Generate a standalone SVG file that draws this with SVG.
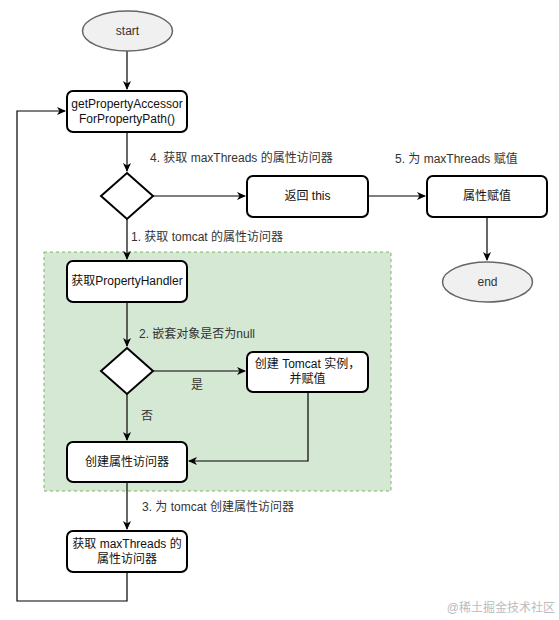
<svg xmlns="http://www.w3.org/2000/svg" width="559" height="620" viewBox="0 0 559 620">
<style>
text{font-family:"Liberation Sans",Arial,"Noto Sans CJK SC",sans-serif;font-size:12px;fill:#111}
.box{fill:#fff;stroke:#000;stroke-width:2}
.term{fill:#f0f0f0;stroke:#666;stroke-width:1.5}
.c{fill:none;stroke:#000;stroke-width:1.2}
.m{text-anchor:middle}
.lbl{fill:#333}
</style>
<defs>
<marker id="a" markerWidth="10" markerHeight="10" refX="8" refY="5" orient="auto" markerUnits="userSpaceOnUse">
<path d="M0,1 L9,5 L0,9 L2.5,5 Z" fill="#000"/>
</marker>
</defs>
<rect x="0" y="0" width="559" height="620" fill="#fff"/>
<g id="group-tomcat">
<rect x="44" y="252" width="347" height="239" fill="#d5e8d4" stroke="#82b366" stroke-width="1" stroke-dasharray="3,3"/>
</g>
<g id="connectors">
<path class="c" d="M127,51 V89" marker-end="url(#a)"/>
<path class="c" d="M127,132 V171" marker-end="url(#a)"/>
<path class="c" d="M153,196 H245" marker-end="url(#a)"/>
<path class="c" d="M368,196 H425" marker-end="url(#a)"/>
<path class="c" d="M487,217 V260" marker-end="url(#a)"/>
<path class="c" d="M127,219 V259" marker-end="url(#a)"/>
<path class="c" d="M127,302 V346" marker-end="url(#a)"/>
<path class="c" d="M153,371 H245" marker-end="url(#a)"/>
<path class="c" d="M127,394 V440" marker-end="url(#a)"/>
<path class="c" d="M308,392 V461 H189" marker-end="url(#a)"/>
<path class="c" d="M127,482 V529" marker-end="url(#a)"/>
<path class="c" d="M127,572 V601 H17 V111 H65" marker-end="url(#a)"/>
<text x="150" y="162" class="lbl">4. 获取 maxThreads 的属性访问器</text>
<text x="395" y="163" class="lbl">5. 为 maxThreads 赋值</text>
<text x="131" y="241" class="lbl">1.  获取 tomcat 的属性访问器</text>
<text x="139" y="338" class="lbl">2. 嵌套对象是否为null</text>
<text x="191" y="389" class="lbl">是</text>
<text x="141" y="420" class="lbl">否</text>
<text x="142" y="511" class="lbl">3. 为 tomcat 创建属性访问器</text>
</g>
<g id="start">
<ellipse class="term" cx="127.5" cy="31" rx="45" ry="20"/>
<text x="127.5" y="35" class="m" style="fill:#333">start</text>
</g>
<g id="getPropertyAccessor">
<rect class="box" x="67" y="91" width="120" height="41" rx="6"/>
<text x="127" y="108" class="m">getPropertyAccessor</text>
<text x="127" y="123" class="m">ForPropertyPath()</text>
</g>
<g id="decision1">
<path class="box" d="M127,173 L153,196 L127,219 L101,196 Z"/>
</g>
<g id="return-this">
<rect class="box" x="247" y="176" width="121" height="41" rx="6"/>
<text x="307.5" y="200" class="m">返回 this</text>
</g>
<g id="assign">
<rect class="box" x="427" y="176" width="120" height="41" rx="6"/>
<text x="487" y="200" class="m">属性赋值</text>
</g>
<g id="end">
<ellipse class="term" cx="487.5" cy="282" rx="45" ry="20"/>
<text x="487.5" y="286" class="m" style="fill:#333">end</text>
</g>
<g id="getPropertyHandler">
<rect class="box" x="67" y="261" width="120" height="41" rx="6"/>
<text x="127" y="285" class="m">获取PropertyHandler</text>
</g>
<g id="decision2">
<path class="box" d="M127,348 L153,371 L127,394 L101,371 Z"/>
</g>
<g id="create-tomcat">
<rect class="box" x="247" y="352" width="121" height="40" rx="6"/>
<text x="307.5" y="368" class="m">创建 Tomcat 实例，</text>
<text x="307.5" y="383" class="m">并赋值</text>
</g>
<g id="create-accessor">
<rect class="box" x="67" y="442" width="120" height="40" rx="6"/>
<text x="127" y="466" class="m">创建属性访问器</text>
</g>
<g id="get-maxThreads-accessor">
<rect class="box" x="67" y="531" width="120" height="41" rx="6"/>
<text x="127" y="548" class="m">获取 maxThreads 的</text>
<text x="127" y="563" class="m">属性访问器</text>
</g>
<text x="555" y="612" style="text-anchor:end;font-size:12px;fill:#bbb">@稀土掘金技术社区</text>
</svg>
